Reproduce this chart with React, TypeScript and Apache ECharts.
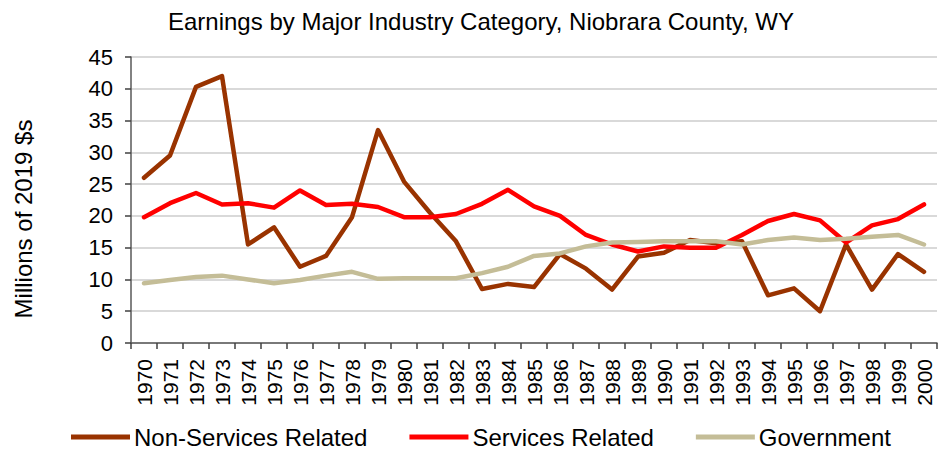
import React, { useEffect, useRef } from "react";
import * as echarts from "echarts";

const years = [
  "1970","1971","1972","1973","1974","1975","1976","1977","1978","1979",
  "1980","1981","1982","1983","1984","1985","1986","1987","1988","1989",
  "1990","1991","1992","1993","1994","1995","1996","1997","1998","1999","2000",
];
const nonServices = [26, 29.5, 40.3, 42, 15.5, 18.2, 12, 13.7, 19.8, 33.5, 25.4, 20.5, 16, 8.5, 9.3, 8.8, 14, 11.7, 8.4, 13.6, 14.2, 16.2, 15.7, 16, 7.5, 8.6, 5, 15.5, 8.4, 14, 11.2];
const services = [19.8, 22, 23.6, 21.8, 22, 21.3, 24, 21.7, 21.9, 21.4, 19.8, 19.8, 20.3, 21.9, 24.1, 21.5, 20, 17, 15.5, 14.4, 15.2, 15, 15, 17, 19.2, 20.3, 19.3, 15.8, 18.5, 19.5, 21.8];
const government = [9.4, 9.9, 10.4, 10.6, 10, 9.4, 9.9, 10.6, 11.2, 10.1, 10.2, 10.2, 10.2, 11, 12, 13.7, 14.1, 15.2, 15.8, 15.9, 16, 16, 16, 15.5, 16.2, 16.6, 16.2, 16.4, 16.7, 17, 15.5];

const FONT = "Liberation Sans";

export default function App() {
  const ref = useRef<HTMLDivElement>(null);
  useEffect(() => {
    if (!ref.current) return;
    const chart = echarts.init(ref.current, null, { renderer: "svg" });
    const mk = (name: string, data: number[], color: string) => ({
      name,
      type: "line",
      data,
      symbol: "none",
      lineStyle: { color, width: 4.5, cap: "round", join: "round" },
      itemStyle: { color },
    });
    chart.setOption({
      animation: false,
      textStyle: { fontFamily: FONT },
      title: {
        text: "Earnings by Major Industry Category, Niobrara County, WY",
        left: 476,
        textAlign: "center",
        top: 4,
        textStyle: { fontFamily: FONT, fontSize: 24, fontWeight: "normal", color: "#000" },
      },
      legend: {
        top: 424,
        left: 71,
        padding: 0,
        itemWidth: 59,
        itemHeight: 5,
        itemGap: 42,
        icon: "rect",
        textStyle: { fontFamily: FONT, fontSize: 24, lineHeight: 26, color: "#000", padding: [0, 0, 0, -1] },
        data: ["Non-Services Related", "Services Related", "Government"],
      },
      graphic: [
        {
          type: "text",
          x: 23,
          y: 219,
          rotation: Math.PI / 2,
          style: {
            text: "Millions of 2019 $s",
            fontFamily: FONT,
            fontSize: 24,
            fill: "#000",
            align: "center",
            verticalAlign: "middle",
          },
        },
      ],
      grid: { left: 131, right: 7, top: 57, bottom: 106, containLabel: false },
      xAxis: {
        type: "category",
        data: years,
        boundaryGap: true,
        axisLine: { lineStyle: { color: "#595959", width: 1.5 } },
        axisTick: { show: true, alignWithLabel: false, length: 6, lineStyle: { color: "#404040", width: 1.5 } },
        axisLabel: { rotate: 90, fontSize: 21, color: "#000", fontFamily: FONT, interval: 0, margin: 16 },
      },
      yAxis: {
        type: "value",
        min: 0,
        max: 45,
        interval: 5,
        axisLine: { show: true, lineStyle: { color: "#595959", width: 1.5 } },
        axisTick: { show: true, length: 6, lineStyle: { color: "#404040", width: 1.5 } },
        axisLabel: { fontSize: 22, color: "#000", fontFamily: FONT, margin: 18 },
        splitLine: { lineStyle: { color: "#d9d9d9", width: 2 } },
      },
      series: [
        mk("Non-Services Related", nonServices, "#993300"),
        mk("Services Related", services, "#ff0000"),
        mk("Government", government, "#c4bd97"),
      ],
    });
    return () => chart.dispose();
  }, []);
  return (
    <div
      ref={ref}
      style={{ position: "fixed", left: 0, top: 0, width: 944, height: 449, background: "#fff" }}
    />
  );
}
